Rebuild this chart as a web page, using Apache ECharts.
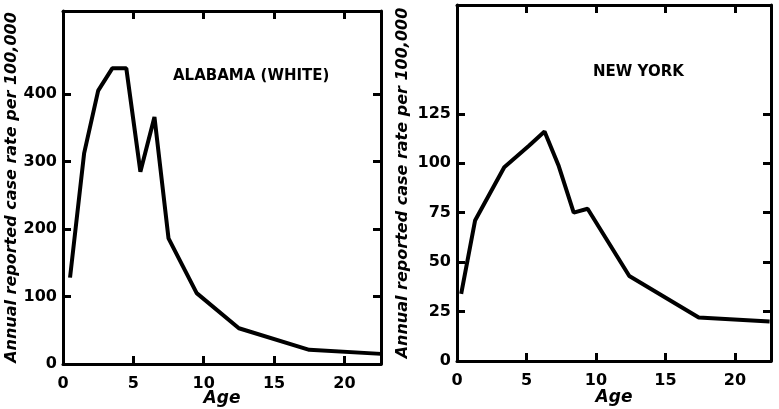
<!DOCTYPE html>
<html>
<head>
<meta charset="utf-8">
<script src="https://cdn.jsdelivr.net/npm/echarts@6/dist/echarts.min.js"></script>
<style>
html,body{margin:0;padding:0;background:#fff;}
#box{width:779px;height:409px;}
</style>
</head>
<body>
<div id="box"></div>
<script>
// Alabama (white) - age vs annual reported case rate
var alabamaAge  = [0.5, 1.5, 2.5, 3.5, 4.5, 5.5, 6.5, 7.5, 9.5, 12.5, 17.5, 22.6];
var alabamaRate = [128, 312, 405, 438, 438, 285, 366, 186, 105, 53, 21, 15];
// New York
var nyAge  = [0.3, 1.3, 3.4, 5.2, 6.3, 7.3, 8.4, 9.4, 12.4, 17.4, 22.5];
var nyRate = [34, 71, 98, 109, 116, 99, 75, 77, 43, 22, 20];

var xTicks = [0, 5, 10, 15, 20];
var alabamaTicks = [0, 100, 200, 300, 400];
var nyTicks = [0, 25, 50, 75, 100, 125];

var yName = 'Annual reported case rate per 100,000';
var font = 'DejaVu Sans';

function pairs(xs, ys){
	var out = [];
	for(var i = 0; i < xs.length; i++){
		out.push([xs[i], ys[i]]);
	}
	return out;
}

function xAxisOf(grid, pos, max, showLabels, gap){
	return {
		type:'value', gridIndex:grid, position:pos, min:0, max:max,
		axisLine:{show:true, onZero:false, lineStyle:{color:'#000', width:3}},
		axisTick:{show:true, inside:true, length:8, customValues:xTicks, lineStyle:{color:'#000', width:3}},
		axisLabel:{show:showLabels, customValues:xTicks, margin:12, color:'#000',
			fontFamily:font, fontWeight:'bold', fontSize:16},
		splitLine:{show:false},
		name: showLabels ? 'Age' : '',
		nameLocation:'middle', nameGap:gap, nameMoveOverlap:false,
		nameTextStyle:{color:'#000', fontFamily:font, fontWeight:'bold', fontStyle:'italic', fontSize:17}
	};
}

function yAxisOf(grid, pos, max, ticks, showLabels, gap){
	return {
		type:'value', gridIndex:grid, position:pos, min:0, max:max,
		axisLine:{show:true, onZero:false, lineStyle:{color:'#000', width:3}},
		axisTick:{show:true, inside:true, length:8, customValues:ticks, lineStyle:{color:'#000', width:3}},
		axisLabel:{show:showLabels, customValues:ticks, margin:6, color:'#000',
			fontFamily:font, fontWeight:'bold', fontSize:16},
		splitLine:{show:false},
		name: showLabels ? yName : '',
		nameLocation:'middle', nameRotate:90, nameGap:gap, nameMoveOverlap:false,
		nameTextStyle:{color:'#000', fontFamily:font, fontWeight:'bold', fontStyle:'italic', fontSize:16}
	};
}

var myChart = echarts.init(document.getElementById('box'));
var option = {
	backgroundColor:'#fff',
	animation:false,
	title:[
		{text:'ALABAMA (WHITE)', left:168, top:64,
			textStyle:{color:'#000', fontFamily:font, fontWeight:'bold', fontSize:15}},
		{text:'NEW YORK', left:588, top:60,
			textStyle:{color:'#000', fontFamily:font, fontWeight:'bold', fontSize:15}}
	],
	grid:[
		{left:63, top:11, right:398, bottom:45, outerBoundsMode:'none', containLabel:false},
		{left:457, top:5, right:8, bottom:48, outerBoundsMode:'none', containLabel:false}
	],
	xAxis:[
		xAxisOf(0, 'bottom', 22.6, true, 26),
		xAxisOf(0, 'top', 22.6, false, 26),
		xAxisOf(1, 'bottom', 22.6, true, 28),
		xAxisOf(1, 'top', 22.6, false, 28)
	],
	yAxis:[
		yAxisOf(0, 'left', 523, alabamaTicks, true, 43),
		yAxisOf(0, 'right', 523, alabamaTicks, false, 43),
		yAxisOf(1, 'left', 180, nyTicks, true, 46),
		yAxisOf(1, 'right', 180, nyTicks, false, 46)
	],
	series:[
		{name:'Alabama', type:'line', xAxisIndex:0, yAxisIndex:0, showSymbol:false,
			lineStyle:{color:'#000', width:4}, data:pairs(alabamaAge, alabamaRate)},
		{name:'New York', type:'line', xAxisIndex:2, yAxisIndex:2, showSymbol:false,
			lineStyle:{color:'#000', width:4}, data:pairs(nyAge, nyRate)}
	]
};
myChart.setOption(option);
</script>
</body>
</html>
